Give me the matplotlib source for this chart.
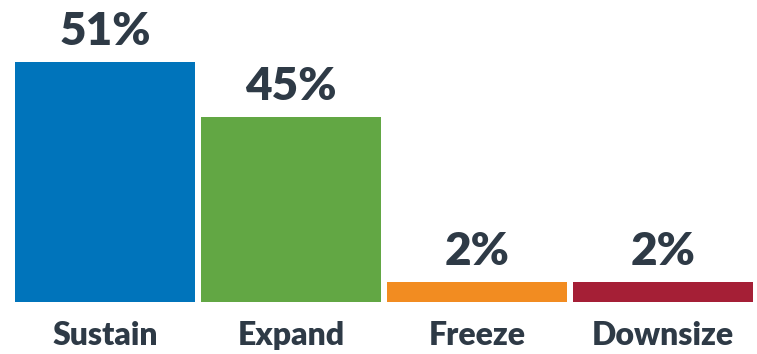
import matplotlib
matplotlib.use("Agg")
from matplotlib import pyplot as plt

# data
categories = ["Sustain", "Expand", "Freeze", "Downsize"]
values = [51, 45, 2, 2]
# drawn bar heights (the original chart is not drawn to scale)
bar_heights = [51, 39.3, 4.25, 4.25]
colors = ["#0074BB", "#62A744", "#F28C21", "#A51F36"]
text_color = "#2E3A46"

plt.rcParams['font.family'] = ['Lato', 'DejaVu Sans']

fig = plt.figure(figsize=(7.57, 3.54), dpi=100)
ax = fig.add_axes([12 / 757, 52 / 354, 744 / 757, 302 / 354])

x = list(range(len(categories)))
ax.bar(x, bar_heights, width=0.968, color=colors)

for xi, h, v in zip(x, bar_heights, values):
    ax.annotate(f"{v}%", (xi, h), xytext=(0, 12), textcoords="offset points",
                ha="center", va="baseline", fontsize=33, fontweight="heavy",
                color=text_color)

for xi, c in zip(x, categories):
    ax.annotate(c, (xi, 0), xytext=(0, -31), textcoords="offset points",
                ha="center", va="baseline", fontsize=23, fontweight="heavy",
                color=text_color, annotation_clip=False)

ax.set_xlim(-0.5, 3.5)
ax.set_ylim(0, 64.2)
ax.axis("off")

fig.savefig("out.png", dpi=100)
